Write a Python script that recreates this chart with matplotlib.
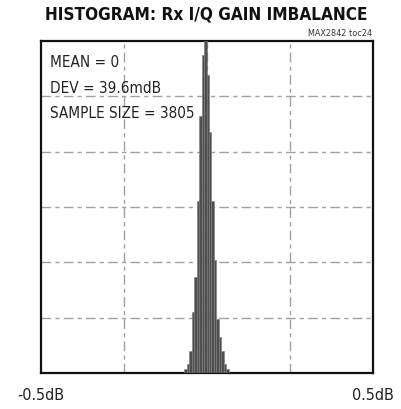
import matplotlib
matplotlib.use("Agg")
import matplotlib.pyplot as plt

# ---- data ----
bin_edges_db = [-0.0675, -0.06, -0.0525, -0.045, -0.0375, -0.03, -0.0225, -0.015,
                -0.0075, 0.0, 0.0075, 0.015, 0.0225, 0.03, 0.0375, 0.045, 0.0525,
                0.06, 0.0675]
counts = [7, 16, 40, 110, 173, 311, 464, 575, 610, 539, 436, 311, 204, 98, 65, 40, 16, 7]
x_tick_vals = [-0.5, 0.5]
x_tick_labels = ["-0.5dB", "0.5dB"]
x_grid_vals = [-0.25, 0.0, 0.25]
y_grid_vals = [100, 200, 300, 400, 500]
stats_lines = ["MEAN = 0", "DEV = 39.6mdB", "SAMPLE SIZE = 3805"]
title = "HISTOGRAM: Rx I/Q GAIN IMBALANCE"
tag = "MAX2842 toc24"

FONT = ["DejaVu Sans"]
ST = "condensed"

fig = plt.figure(figsize=(4.01, 4.10), dpi=100)
ax = fig.add_axes([40.5 / 401, 36 / 410, 332 / 401, 332 / 410])

lefts = bin_edges_db[:-1]
widths = [b - a for a, b in zip(bin_edges_db[:-1], bin_edges_db[1:])]
ax.bar(lefts, counts, width=widths, align="edge", color="#4f4f4f",
       edgecolor="#7a7a7a", linewidth=0.4, zorder=3)

ax.set_xlim(-0.5, 0.5)
ax.set_ylim(0, 600)

ax.set_xticks(x_tick_vals)
ax.set_xticklabels(x_tick_labels, family=FONT, stretch=ST, fontsize=11.5, color="#222222")
ax.set_yticks(y_grid_vals)
ax.set_yticklabels([])
ax.tick_params(axis="both", which="both", length=0)
ax.tick_params(axis="x", pad=10)

for xv in x_grid_vals:
    ax.axvline(xv, color="#a0a0a0", linewidth=1.0, linestyle=(0, (7, 3, 3, 3)), zorder=1)
for yv in y_grid_vals:
    ax.axhline(yv, color="#a0a0a0", linewidth=1.0, linestyle=(0, (7, 3, 3, 3)), zorder=1)

for s in ax.spines.values():
    s.set_linewidth(1.6)
    s.set_color("#111111")

ypos = [0.937, 0.861, 0.786]
for line, yy in zip(stats_lines, ypos):
    ax.text(0.029, yy, line, transform=ax.transAxes, ha="left", va="center",
            family=FONT, stretch=ST, fontsize=11, color="#222222", zorder=5)

fig.text(206 / 401, 1 - 14 / 410, title, ha="center", va="center",
         family=FONT, stretch=ST, fontsize=12.3, fontweight="bold", color="#111111")
fig.text(372 / 401, 1 - 33 / 410, tag, ha="right", va="center",
         family=FONT, stretch=ST, fontsize=6.5, color="#333333")

fig.savefig("out.png", dpi=100)
